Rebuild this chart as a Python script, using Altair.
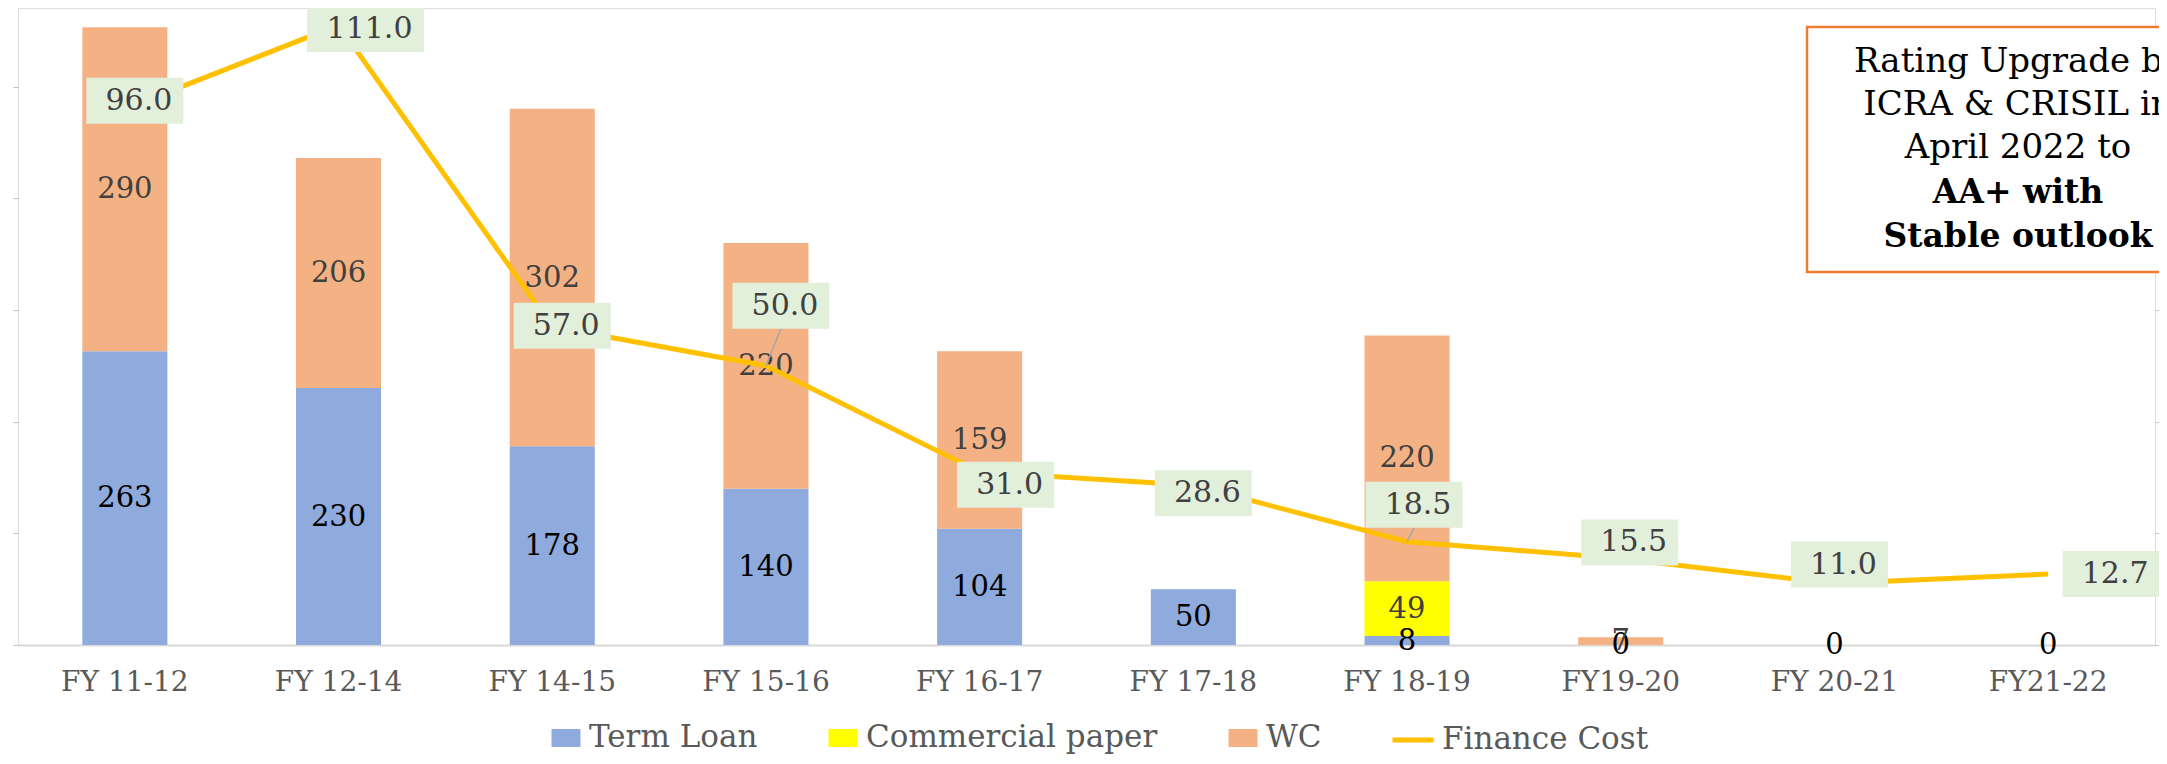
import altair as alt
import pandas as pd

# ---------------- data ----------------
categories = ["FY 11-12", "FY 12-14", "FY 14-15", "FY 15-16", "FY 16-17",
              "FY 17-18", "FY 18-19", "FY19-20", "FY 20-21", "FY21-22"]
term_loan = [263, 230, 178, 140, 104, 50, 8, 0, 0, 0]
commercial_paper = [0, 0, 0, 0, 0, 0, 49, 0, 0, 0]
wc = [290, 206, 302, 220, 159, 0, 220, 7, 0, 0]
finance_cost = [96.0, 111.0, 57.0, 50.0, 31.0, 28.6, 18.5, 15.5, 11.0, 12.7]
series_names = ["Term Loan", "Commercial paper", "WC", "Finance Cost"]

rating_regular = ["Rating Upgrade by", "ICRA & CRISIL in", "April 2022 to"]
rating_bold = ["AA+ with", "Stable outlook"]

# label nudges (screen px: dx right, dy down) for the finance-cost callouts
label_nudge_px = [(10, -8), (27, 4), (10, -1), (15, -60), (26, 13),
                  (10, 8), (7, -37), (9, -16), (5, -19), (63, 0)]

# ---------------- layout ----------------
W, H = 2137, 637
LEFT_MAX = 570.3
RIGHT_MAX = LEFT_MAX / 5
FONT = "DejaVu Serif"
bar_colors = ["#8FAADC", "#FFFF00", "#F4B183"]
line_color = "#FFC000"

# ---------------- tables ----------------
rows = []
for i, c in enumerate(categories):
    cum = 0
    for k, (name, vals) in enumerate(zip(series_names[:3], [term_loan, commercial_paper, wc])):
        v = vals[i]
        rows.append(dict(cat=c, series=name, value=v, ord=k, mid=cum + v / 2,
                         label=str(v), show=bool(k == 0 or v > 0)))
        cum += v
bars_df = pd.DataFrame(rows)

step_px = W / len(categories)
ppu = H / RIGHT_MAX
fin = pd.DataFrame({"idx": list(range(len(categories))), "fc": finance_cost,
                    "label": [f"{v:.1f}" for v in finance_cost]})
fin["lx"] = [i + d[0] / step_px for i, d in zip(fin.idx, label_nudge_px)]
fin["ly"] = [v - d[1] / ppu for v, d in zip(fin.fc, label_nudge_px)]
fin["ly_edge"] = fin["ly"] - 23 / ppu
fin["leader"] = [abs(d[1]) > 30 for d in label_nudge_px]


def box_path(txt):
    w = 20 * len(txt) + 17
    h = 46
    return f"M{-w/2},{-h/2}H{w/2}V{h/2}H{-w/2}Z"


fin["box"] = [box_path(t) for t in fin.label]

# ---------------- bars group ----------------
x_band = alt.X("cat:N",
               scale=alt.Scale(domain=categories, paddingInner=0.602, paddingOuter=0.301),
               axis=alt.Axis(title=None, labelAngle=0, ticks=False, domainColor="#D9D9D9",
                             domainWidth=2, labelPadding=23, labelFontSize=28,
                             labelColor="#595959", labelFont=FONT))
left_axis = alt.Axis(title=None, values=[0, 100, 200, 300, 400, 500], labels=False,
                     domain=False, grid=False, ticks=True, tickSize=5,
                     tickColor="#BFBFBF", tickWidth=1)
left_scale = alt.Scale(domain=[0, LEFT_MAX], nice=False, zero=True)

bars = alt.Chart(bars_df).mark_bar().encode(
    x=x_band,
    y=alt.Y("value:Q", stack="zero", scale=left_scale, axis=left_axis),
    color=alt.Color("series:N", scale=alt.Scale(domain=series_names[:3], range=bar_colors),
                    legend=None),
    order=alt.Order("ord:Q"),
)

tl_text = alt.Chart(bars_df).transform_filter(
    "datum.show && datum.series === 'Term Loan'"
).mark_text(font=FONT, fontSize=29, color="#000000", baseline="middle", align="center").encode(
    x=x_band,
    y=alt.Y("mid:Q", scale=left_scale, axis=left_axis),
    text="label:N",
)
other_text = alt.Chart(bars_df).transform_filter(
    "datum.show && datum.series !== 'Term Loan'"
).mark_text(font=FONT, fontSize=29, color="#404040", baseline="middle", align="center").encode(
    x=x_band,
    y=alt.Y("mid:Q", scale=left_scale, axis=left_axis),
    text="label:N",
)
bar_group = alt.layer(bars, tl_text, other_text)

# ---------------- finance cost group ----------------
xq_scale = alt.Scale(domain=[-0.5, len(categories) - 0.5], nice=False, zero=False)
right_scale = alt.Scale(domain=[0, RIGHT_MAX], nice=False, zero=True)
right_axis = alt.Axis(title=None, orient="right", values=[0, 20, 40, 60, 80, 100],
                      labels=False, domain=False, grid=False, tickSize=5,
                      tickColor="#BFBFBF", tickWidth=1)

line = alt.Chart(fin).mark_line(color=line_color, strokeWidth=5, strokeJoin="round").encode(
    x=alt.X("idx:Q", scale=xq_scale, axis=None),
    y=alt.Y("fc:Q", scale=right_scale, axis=right_axis),
)
leaders = alt.Chart(fin).transform_filter("datum.leader").mark_rule(
    color="#A6A6A6", strokeWidth=1.5
).encode(
    x=alt.X("idx:Q", scale=xq_scale, axis=None),
    y=alt.Y("fc:Q", scale=right_scale, axis=right_axis),
    x2="lx:Q",
    y2="ly_edge:Q",
)
boxes = alt.Chart(fin).mark_point(filled=True, size=4, opacity=1, fill="#E2EFDA",
                                  strokeWidth=0).encode(
    x=alt.X("lx:Q", scale=xq_scale, axis=None),
    y=alt.Y("ly:Q", scale=right_scale, axis=right_axis),
    shape=alt.Shape("box:N", scale=None),
)
fin_text = alt.Chart(fin).mark_text(font=FONT, fontSize=30, color="#404040",
                                    baseline="middle", align="center", dx=4).encode(
    x=alt.X("lx:Q", scale=xq_scale, axis=None),
    y=alt.Y("ly:Q", scale=right_scale, axis=right_axis),
    text="label:N",
)
fin_group = alt.layer(line, leaders, boxes, fin_text)

# ---------------- rating annotation ----------------
one = pd.DataFrame({"a": [0]})
rating_box = alt.Chart(one).mark_rect(fill="white", stroke="#ED7D31", strokeWidth=2.5).encode(
    x=alt.value(1789), x2=alt.value(2260), y=alt.value(19), y2=alt.value(264)
)
reg_df = pd.DataFrame({"t": rating_regular, "ypix": [54, 97, 140]})
bold_df = pd.DataFrame({"t": rating_bold, "ypix": [185, 229]})
rating_reg_text = alt.Chart(reg_df).mark_text(font=FONT, fontSize=34, color="#000000",
                                              align="center", baseline="middle").encode(
    x=alt.value(2000), y=alt.Y("ypix:Q", scale=None, axis=None), text="t:N"
)
rating_bold_text = alt.Chart(bold_df).mark_text(font=FONT, fontSize=33, fontWeight="bold",
                                                color="#000000", align="center",
                                                baseline="middle").encode(
    x=alt.value(2000), y=alt.Y("ypix:Q", scale=None, axis=None), text="t:N"
)

# ---------------- legend ----------------
rect_sym = "M-1,-0.62H1V0.62H-1Z"
line_sym = "M-1.83,0H1"
leg = alt.Legend(title=None, orient="none", legendX=531, legendY=713, direction="horizontal",
                 labelFont=FONT, labelFontSize=31, labelColor="#595959", labelOffset=6,
                 labelLimit=1000, columnPadding=60, symbolSize=841, symbolStrokeWidth=5,
                 padding=0, symbolOpacity=1)
leg_df = pd.DataFrame({"series": series_names})
legend_layer = alt.Chart(leg_df).transform_filter("false").mark_point(
    filled=True, size=841, opacity=1
).encode(
    fill=alt.Fill("series:N", scale=alt.Scale(domain=series_names,
                                              range=bar_colors + ["transparent"]), legend=leg),
    stroke=alt.Stroke("series:N", scale=alt.Scale(domain=series_names,
                                                  range=["transparent"] * 3 + [line_color]),
                      legend=leg),
    shape=alt.Shape("series:N", scale=alt.Scale(domain=series_names,
                                                range=[rect_sym] * 3 + [line_sym]), legend=leg),
)

chart = alt.layer(
    bar_group, fin_group, rating_box, rating_reg_text, rating_bold_text, legend_layer
).resolve_scale(
    x="independent", y="independent"
).properties(
    width=W, height=H,
    padding={"left": 10, "top": 0, "right": 4, "bottom": 111},
    autosize=alt.AutoSizeParams(type="none"),
).configure_view(strokeWidth=0).configure(font=FONT)

chart.save("out.html", embed_options={"renderer": "svg", "actions": False})
